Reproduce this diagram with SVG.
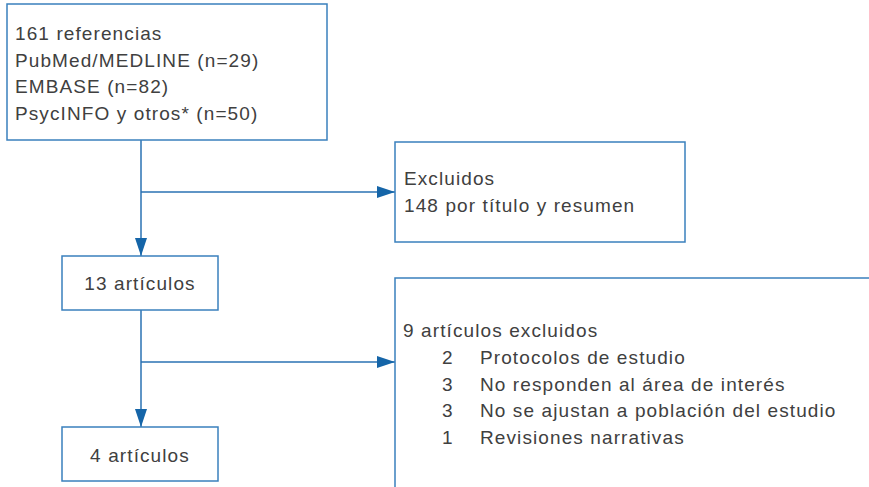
<svg xmlns="http://www.w3.org/2000/svg" width="869" height="487" viewBox="0 0 869 487">
<defs>
<marker id="ah" markerWidth="18" markerHeight="12" refX="18" refY="6" orient="auto" markerUnits="userSpaceOnUse">
<path d="M0,0 L18,6 L0,12 Z" fill="#1565a8"/>
</marker>
</defs>
<style>
.box{fill:#fff;stroke:#3a80bd;stroke-width:1.5}
.t{font-family:"Liberation Sans",Arial,sans-serif;font-size:19px;letter-spacing:1.1px;fill:#404040}
.c{fill:none;stroke:#2a72b3;stroke-width:1.5}
</style>
<rect width="869" height="487" fill="#fff"/>
<g id="connectors">
<line class="c" x1="141" y1="140" x2="141" y2="256" marker-end="url(#ah)"/>
<line class="c" x1="141" y1="192" x2="395" y2="192" marker-end="url(#ah)"/>
<line class="c" x1="141" y1="310" x2="141" y2="427" marker-end="url(#ah)"/>
<line class="c" x1="141" y1="362" x2="395" y2="362" marker-end="url(#ah)"/>
</g>
<g id="n1">
<rect class="box" x="7" y="4" width="320" height="136"/>
<text class="t" x="15" y="40">161 referencias</text>
<text class="t" x="15" y="67">PubMed/MEDLINE (n=29)</text>
<text class="t" x="15" y="93">EMBASE (n=82)</text>
<text class="t" x="15" y="120">PsycINFO y otros* (n=50)</text>
</g>
<g id="n2">
<rect class="box" x="395" y="142" width="290" height="100"/>
<text class="t" x="404" y="185">Excluidos</text>
<text class="t" x="404" y="212">148 por título y resumen</text>
</g>
<g id="n3">
<rect class="box" x="62" y="256" width="156" height="54"/>
<text class="t" x="140" y="290" text-anchor="middle">13 artículos</text>
</g>
<g id="n4">
<rect class="box" x="395" y="278" width="490" height="230"/>
<text class="t" x="403" y="337">9 artículos excluidos</text>
<text class="t" x="442" y="364">2</text>
<text class="t" x="480" y="364">Protocolos de estudio</text>
<text class="t" x="442" y="391">3</text>
<text class="t" x="480" y="391">No responden al área de interés</text>
<text class="t" x="442" y="417">3</text>
<text class="t" x="480" y="417">No se ajustan a población del estudio</text>
<text class="t" x="442" y="444">1</text>
<text class="t" x="480" y="444">Revisiones narrativas</text>
</g>
<g id="n5">
<rect class="box" x="62" y="427" width="156" height="54"/>
<text class="t" x="140" y="462" text-anchor="middle">4 artículos</text>
</g>
</svg>
